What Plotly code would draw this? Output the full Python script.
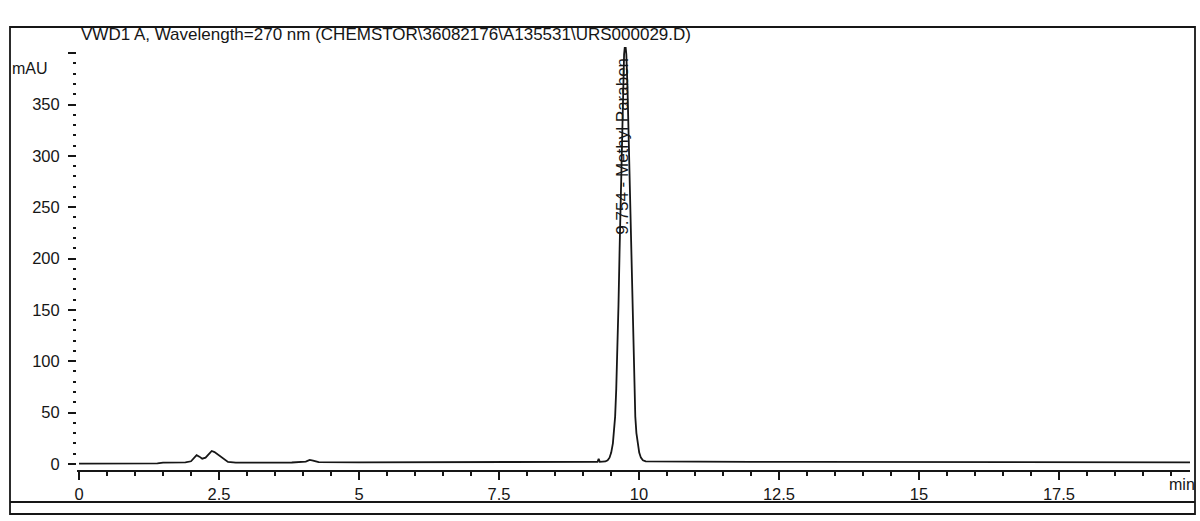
import plotly.graph_objects as go

# Chromatogram: VWD1 A, 270 nm
time_min = [
    0.0, 0.5, 1.0, 1.4, 1.5, 1.9, 2.0, 2.05, 2.1, 2.15, 2.2, 2.26, 2.32, 2.37,
    2.42, 2.5, 2.58, 2.66, 2.8, 3.2, 3.8, 4.05, 4.12, 4.18, 4.28, 5.0, 6.0,
    7.0, 8.0, 8.8, 9.2, 9.26, 9.28, 9.3, 9.4, 9.44, 9.474, 9.504, 9.534,
    9.554, 9.574, 9.594, 9.614, 9.634, 9.654, 9.674, 9.694, 9.714, 9.734,
    9.754, 9.774, 9.794, 9.814, 9.834, 9.854, 9.874, 9.894, 9.914, 9.934,
    9.954, 9.974, 10.004, 10.034, 10.07, 10.12, 10.5, 11.0, 12.0, 13.0, 14.0,
    15.0, 16.0, 17.0, 18.0, 19.0, 19.84,
]
signal_mau = [
    0.3, 0.3, 0.4, 0.5, 1.2, 1.5, 2.5, 5.5, 8.5, 7.0, 5.0, 6.0, 10.0, 12.5,
    11.5, 8.0, 4.5, 1.8, 1.2, 1.2, 1.3, 2.2, 3.8, 3.2, 1.6, 1.5, 1.6,
    1.7, 1.8, 1.9, 2.0, 2.0, 5.0, 2.0, 2.3, 3.5, 6.0, 11.0, 20.0,
    32.0, 46.0, 73.0, 109.0, 155.0, 209.0, 266.0, 322.0, 368.0, 399.0,
    410.0, 399.0, 368.0, 322.0, 266.0, 209.0, 155.0, 109.0, 73.0, 46.0,
    30.0, 20.0, 11.0, 6.0, 3.5, 2.4, 2.2, 2.1, 2.0, 1.9, 1.8,
    1.7, 1.6, 1.6, 1.5, 1.5, 1.5,
]

peak_rt = 9.754
peak_name = "Methyl Paraben"

x_ticks = [0, 2.5, 5, 7.5, 10, 12.5, 15, 17.5]
y_ticks = [0, 50, 100, 150, 200, 250, 300, 350, 400]
y_tick_text = ["0", "50", "100", "150", "200", "250", "300", "350", ""]

title_text = r"VWD1 A, Wavelength=270 nm (CHEMSTOR\36082176\A135531\URS000029.D)"

W, H = 1200, 521
L, R, T, B = 77, 10, 47, 51
X_RANGE = [-0.036, 19.84]
Y_RANGE = [-6, 406]

INK = "#161616"
FONT = "Liberation Sans, Arial, sans-serif"


def px(xp):
    """Pixel column -> paper x."""
    return (xp - L) / (W - L - R)


def py(yp):
    """Pixel row -> paper y."""
    return (H - B - yp) / (H - B - T)


fig = go.Figure()
fig.add_trace(go.Scatter(
    x=time_min, y=signal_mau, mode="lines",
    line=dict(color=INK, width=1.8), hoverinfo="skip", showlegend=False,
))

fig.update_layout(
    width=W, height=H,
    margin=dict(l=L, r=R, t=T, b=B),
    paper_bgcolor="white", plot_bgcolor="white",
    font=dict(family=FONT, color=INK, size=16),
    showlegend=False,
)

fig.update_xaxes(
    range=X_RANGE, showgrid=False, zeroline=False,
    showline=True, linecolor=INK, linewidth=1.8,
    tickmode="array", tickvals=x_ticks,
    ticktext=[f"{v:g}" for v in x_ticks],
    ticks="outside", ticklen=8, tickwidth=1.5, tickcolor=INK,
    tickfont=dict(size=16.5, family=FONT, color=INK),
    minor=dict(tickmode="linear", tick0=0, dtick=0.5, ticks="outside",
               ticklen=4, tickwidth=1.5, tickcolor=INK),
)
fig.update_yaxes(
    range=Y_RANGE, showgrid=False, zeroline=False, showline=False,
    tickmode="array", tickvals=y_ticks, ticktext=y_tick_text,
    ticks="outside", ticklen=8, tickwidth=1.5, tickcolor=INK,
    ticklabelstandoff=5,
    tickfont=dict(size=16.5, family=FONT, color=INK),
    minor=dict(tickmode="linear", tick0=0, dtick=10, ticks="outside",
               ticklen=3, tickwidth=1.5, tickcolor=INK),
)

# Page frame and the rule under the time axis labels
fig.add_shape(type="rect", xref="paper", yref="paper",
              x0=px(10), x1=px(1195), y0=py(514), y1=py(27),
              line=dict(color=INK, width=1.8), layer="below")
fig.add_shape(type="line", xref="paper", yref="paper",
              x0=px(10), x1=px(1195), y0=py(502), y1=py(502),
              line=dict(color=INK, width=1.8))

# Signal title
fig.add_annotation(text=title_text, xref="paper", yref="paper",
                   x=px(79), y=py(34), xanchor="left", yanchor="middle",
                   showarrow=False, font=dict(size=17, family=FONT, color=INK))
# Unit labels
fig.add_annotation(text="mAU", xref="paper", yref="paper",
                   x=px(10), y=py(69), xanchor="left", yanchor="middle",
                   showarrow=False, font=dict(size=16, family=FONT, color=INK))
fig.add_annotation(text="min", xref="paper", yref="paper",
                   x=px(1197), y=py(484), xanchor="right", yanchor="middle",
                   showarrow=False, font=dict(size=16, family=FONT, color=INK))

# Peak label
fig.add_annotation(text=f"{peak_rt:.3f} - {peak_name}", x=peak_rt, y=221,
                   xref="x", yref="y", textangle=-90, xanchor="center",
                   yanchor="bottom", xshift=-3, showarrow=False,
                   font=dict(size=17, family=FONT, color=INK))

fig.write_html("out.html")
